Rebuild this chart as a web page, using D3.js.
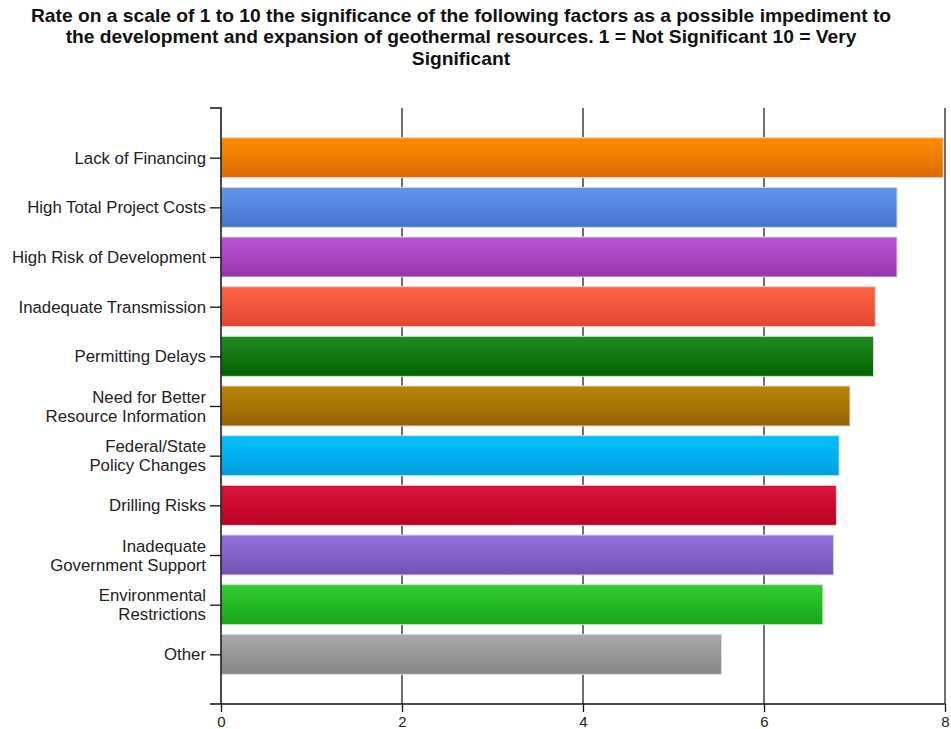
<!DOCTYPE html>
<html>
<head>
<meta charset="utf-8">
<script src="https://cdn.jsdelivr.net/npm/d3@7"></script>
<style>
  body { margin: 0; background: #fff; }
  svg { display: block; }
</style>
</head>
<body>
<div id="chart"></div>
<script>
// chart values
const titleLines = [
    "Rate on a scale of 1 to 10 the significance of the following factors as a possible impediment to",
    "the development and expansion of geothermal resources. 1 = Not Significant 10 = Very",
    "Significant"
];
const categories = [
    ["Lack of Financing"],
    ["High Total Project Costs"],
    ["High Risk of Development"],
    ["Inadequate Transmission"],
    ["Permitting Delays"],
    ["Need for Better", "Resource Information"],
    ["Federal/State", "Policy Changes"],
    ["Drilling Risks"],
    ["Inadequate", "Government Support"],
    ["Environmental", "Restrictions"],
    ["Other"]
];
const values = [7.98, 7.47, 7.47, 7.23, 7.21, 6.95, 6.83, 6.80, 6.77, 6.65, 5.53];
const topColors = ["#ff8c00", "#6495ed", "#ba55d3", "#ff6347", "#228b22", "#b8860b", "#00bfff", "#dc143c", "#9370db", "#32cd32", "#a9a9a9"];
const bottomColors = ["#dc6a00", "#4674cc", "#9636ac", "#e2462e", "#006400", "#946400", "#009fdd", "#ba0024", "#7252b6", "#16a516", "#868686"];
const xTicks = [0, 2, 4, 6, 8];

function drawChart() {
    let width = 951;
    let height = 729;
    let left = 221, right = 945, top = 108, bottom = 704;
    let font = "'Liberation Sans', Arial, sans-serif";

    let svg = d3.select("#chart").append("svg")
        .attr("width", width)
        .attr("height", height)

    let xscale = d3.scaleLinear()
        .domain([0, 8])
        .range([left, right])

    let yscale = d3.scalePoint()
        .domain(d3.range(categories.length))
        .range([top, bottom])
        .padding(1)

    let barH = 40;

    // gradients for bars
    let defs = svg.append("defs");
    values.forEach((v, i) => {
        let g = defs.append("linearGradient")
            .attr("id", "grad" + i)
            .attr("x1", 0).attr("y1", 0).attr("x2", 0).attr("y2", 1)
        g.append("stop").attr("offset", "0%").attr("stop-color", topColors[i])
        g.append("stop").attr("offset", "100%").attr("stop-color", bottomColors[i])
    })

    // title (slightly widened, like the original)
    svg.append("g")
        .attr("transform", "translate(461,0) scale(1.1,1)")
        .append("text")
        .attr("text-anchor", "middle")
        .style("font-family", font)
        .style("font-weight", "bold")
        .style("font-size", "17.5px")
        .attr("fill", "#111")
        .selectAll("tspan").data(titleLines).enter().append("tspan")
        .attr("x", 0)
        .attr("y", (d, i) => 22 + i * 21.5)
        .text(d => d)

    // vertical grid lines (behind bars)
    svg.append("g").selectAll("line").data(xTicks.slice(1)).enter().append("line")
        .attr("x1", d => xscale(d)).attr("x2", d => xscale(d))
        .attr("y1", top).attr("y2", bottom)
        .attr("stroke", "#222")
        .attr("stroke-width", 1.3)

    // bars
    svg.append("g").selectAll("rect").data(values).enter().append("rect")
        .attr("x", xscale(0))
        .attr("y", (d, i) => yscale(i) - barH / 2)
        .attr("width", d => xscale(d) - xscale(0))
        .attr("height", barH)
        .attr("fill", (d, i) => "url(#grad" + i + ")")
        .attr("stroke", "#dcdcdc")
        .attr("stroke-width", 1)

    // x axis
    let xAxis = svg.append("g")
        .attr("transform", "translate(0," + bottom + ")")
        .call(d3.axisBottom(xscale).tickValues(xTicks).tickSize(8).tickSizeOuter(0).tickFormat(d3.format("d")))
    xAxis.select(".domain").attr("stroke", "#111").attr("stroke-width", 1.5)
        .attr("d", "M" + (left - 11) + ",0H" + right)
    xAxis.selectAll(".tick line").attr("stroke", "#111").attr("stroke-width", 1.3)
    xAxis.selectAll(".tick text")
        .attr("y", 23)
        .attr("dy", 0)
        .attr("text-anchor", (d, i) => i === xTicks.length - 1 ? "end" : "middle")
        .attr("dx", (d, i) => i === xTicks.length - 1 ? 4 : 0)
        .style("font-family", font)
        .style("font-size", "15px")
        .attr("fill", "#222")

    // y axis
    let yAxis = svg.append("g")
        .attr("transform", "translate(" + left + ",0)")
        .call(d3.axisLeft(yscale).tickSize(11).tickSizeOuter(0).tickFormat(""))
    yAxis.select(".domain").attr("stroke", "#111").attr("stroke-width", 1.5)
        .attr("d", "M-11," + top + "H0V" + bottom)
    yAxis.selectAll(".tick line").attr("stroke", "#111").attr("stroke-width", 1.3)

    // category labels
    let labels = svg.append("g")
        .style("font-family", font)
        .style("font-size", "16.8px")
        .attr("fill", "#222")
        .attr("text-anchor", "end")
    categories.forEach((lines, i) => {
        let t = labels.append("text")
        let lh = 19;
        lines.forEach((s, j) => {
            t.append("tspan")
                .attr("x", left - 15)
                .attr("y", yscale(i) + 6 + (j - (lines.length - 1) / 2) * lh)
                .text(s)
        })
    })
}

drawChart();
</script>
</body>
</html>
